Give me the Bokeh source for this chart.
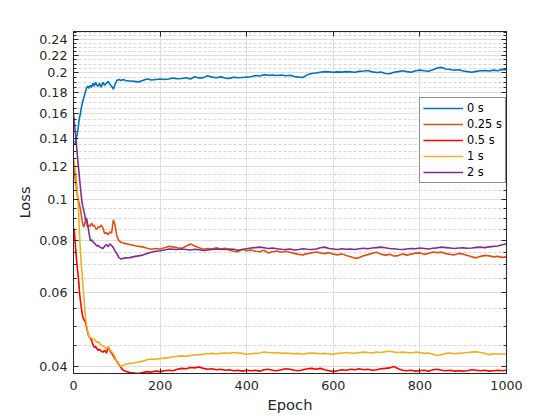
from bokeh.plotting import figure
from bokeh.models import (Range1d, FixedTicker, LinearAxis, LogAxis, Legend, LegendItem,
                          CustomJSTickFormatter)
from bokeh.embed import file_html
from bokeh.resources import INLINE

epochs = [0, 2, 4, 6, 8, 10, 12, 14, 16, 18, 20, 22, 24, 26, 28, 30,
          33, 36, 39, 42, 45, 48, 51, 54, 57, 60,
          64, 68, 72, 76, 80, 84, 88, 92, 96, 100,
          105, 110, 115, 120,
          130, 140, 150, 160, 170, 180, 190, 200, 210, 220,
          230, 240, 250, 260, 270, 280, 290, 300, 310, 320,
          330, 340, 350, 360, 370, 380, 390, 400, 410, 420,
          430, 440, 450, 460, 470, 480, 490, 500, 510, 520,
          530, 540, 550, 560, 570, 580, 590, 600, 610, 620,
          630, 640, 650, 660, 670, 680, 690, 700, 710, 720,
          730, 740, 750, 760, 770, 780, 790, 800, 810, 820,
          830, 840, 850, 860, 870, 880, 890, 900, 910, 920,
          930, 940, 950, 960, 970, 980, 990, 1000]

loss_0s = [0.136, 0.135, 0.137, 0.140, 0.142, 0.146, 0.152, 0.157, 0.160, 0.165, 0.169, 0.172, 0.175, 0.178, 0.181, 0.184,
           0.186, 0.184, 0.187, 0.185, 0.189, 0.186, 0.190, 0.187, 0.186, 0.189,
           0.185, 0.190, 0.187, 0.189, 0.191, 0.188, 0.186, 0.183, 0.188, 0.192,
           0.193, 0.192, 0.193, 0.192,
           0.1915, 0.191, 0.1905, 0.192, 0.1935, 0.1925, 0.193, 0.1935, 0.193, 0.1935,
           0.1945, 0.1938, 0.194, 0.1948, 0.1935, 0.196, 0.1945, 0.195, 0.197, 0.1955,
           0.1948, 0.1958, 0.1945, 0.1942, 0.1955, 0.1948, 0.1952, 0.1955, 0.196, 0.1972,
           0.1968, 0.1982, 0.1975, 0.1978, 0.1972, 0.1978, 0.197, 0.1975, 0.1962, 0.1955,
           0.1952, 0.198, 0.1995, 0.2, 0.2008, 0.2015, 0.2012, 0.2008, 0.2012, 0.201,
           0.2015, 0.2012, 0.2008, 0.2018, 0.2022, 0.2028, 0.2012, 0.2005, 0.201, 0.1995,
           0.1992, 0.2008, 0.2015, 0.2025, 0.2015, 0.2008, 0.2025, 0.2032, 0.2025, 0.202,
           0.2035, 0.2055, 0.2062, 0.2045, 0.2038, 0.203, 0.2035, 0.2022, 0.2015, 0.2008,
           0.2018, 0.2025, 0.2028, 0.2022, 0.2032, 0.2025, 0.204, 0.2035]

loss_025s = [0.124, 0.118, 0.112, 0.108, 0.104, 0.101, 0.099, 0.097, 0.095, 0.092, 0.089, 0.087, 0.086, 0.088, 0.089, 0.088,
             0.086, 0.087, 0.0865, 0.088, 0.0865, 0.087, 0.0855, 0.085, 0.0862, 0.0858,
             0.087, 0.0855, 0.083, 0.0835, 0.0825, 0.0838, 0.0832, 0.0895, 0.087, 0.082,
             0.0798, 0.0792, 0.0788, 0.0786,
             0.0782, 0.0778, 0.0774, 0.0772, 0.0766, 0.0762, 0.0765, 0.0763, 0.0768, 0.0774,
             0.0772, 0.0768, 0.0766, 0.0775, 0.0784, 0.0776, 0.0768, 0.0762, 0.0765, 0.0763,
             0.0768, 0.0763, 0.0766, 0.0758, 0.0754, 0.0752, 0.0762, 0.0756, 0.0759, 0.0754,
             0.0752, 0.0758, 0.0747, 0.0752, 0.0755, 0.075, 0.0754, 0.075, 0.0745, 0.0741,
             0.0739, 0.0744, 0.0747, 0.0751, 0.0747, 0.0744, 0.0748, 0.0742, 0.0739, 0.0743,
             0.0736, 0.0731, 0.0725, 0.0728, 0.0735, 0.074, 0.0745, 0.075, 0.0742, 0.0738,
             0.0741, 0.0734, 0.0736, 0.0743, 0.0738, 0.0742, 0.0746, 0.0747, 0.0741, 0.0745,
             0.0751, 0.0748, 0.075, 0.0744, 0.0741, 0.0739, 0.0745, 0.0742, 0.0736, 0.0731,
             0.0727, 0.0733, 0.0737, 0.0735, 0.0731, 0.0733, 0.0729, 0.0731]

loss_05s = [0.0855, 0.084, 0.079, 0.074, 0.070, 0.067, 0.064, 0.060, 0.0574, 0.0555, 0.0534, 0.0525, 0.0518, 0.0515, 0.051, 0.0498,
            0.0482, 0.0472, 0.0468, 0.0462, 0.0452, 0.0445, 0.0448, 0.0442, 0.0438, 0.0441,
            0.0436, 0.0434, 0.0438, 0.0432, 0.0446, 0.0438, 0.0432, 0.0425, 0.0418, 0.0413,
            0.0405, 0.0398, 0.0393, 0.0391,
            0.0388, 0.0387, 0.0386, 0.0388, 0.039, 0.0389, 0.0391, 0.039, 0.0392, 0.0393,
            0.0392, 0.0395, 0.0397, 0.0396, 0.0399, 0.0398, 0.04, 0.0397, 0.0395, 0.0396,
            0.0394, 0.0395, 0.0393, 0.0394, 0.0392, 0.0393, 0.0391, 0.0393, 0.0392, 0.0393,
            0.0391, 0.0394, 0.0395, 0.0393, 0.0392, 0.0394, 0.0396, 0.0395, 0.0393, 0.0392,
            0.0394, 0.0396, 0.0397, 0.0395, 0.0397, 0.0394, 0.0392, 0.039, 0.0392, 0.0394,
            0.0393, 0.0395, 0.0394, 0.0396, 0.0394, 0.0395, 0.0393, 0.0394, 0.0396, 0.0397,
            0.0398, 0.0401, 0.0396, 0.0393, 0.0392, 0.0393, 0.0391, 0.0392, 0.0393, 0.0391,
            0.0394, 0.0395, 0.0393, 0.0392, 0.0393, 0.0391, 0.0392, 0.0391, 0.0392, 0.0394,
            0.0393, 0.0392, 0.0393, 0.0391, 0.0392, 0.0393, 0.0392, 0.0393]

loss_1s = [0.125, 0.122, 0.118, 0.114, 0.108, 0.100, 0.093, 0.082, 0.0755, 0.070, 0.0664, 0.062, 0.0585, 0.055, 0.0522, 0.0505,
           0.0485, 0.0472, 0.047, 0.0468, 0.0465, 0.0466, 0.0462, 0.0458, 0.046, 0.0455,
           0.0452, 0.0448, 0.0446, 0.0442, 0.0448, 0.044, 0.0435, 0.043, 0.0422, 0.0412,
           0.0403, 0.0401, 0.0404, 0.0406,
           0.0408, 0.0409, 0.0411, 0.0413, 0.0416, 0.0418, 0.0417, 0.0419, 0.042, 0.0421,
           0.0423, 0.0424, 0.0425, 0.0424, 0.0426, 0.0427, 0.0428, 0.0429, 0.043, 0.0431,
           0.043, 0.0431, 0.0432, 0.0431, 0.0433, 0.0432, 0.0431, 0.0429, 0.043, 0.0431,
           0.0432, 0.0434, 0.0433, 0.0432, 0.0433, 0.0431, 0.0432, 0.0431, 0.043, 0.0431,
           0.0429, 0.0431, 0.0432, 0.0431, 0.043, 0.0431, 0.043, 0.0429, 0.0431, 0.0432,
           0.0433, 0.0432, 0.0431, 0.0433, 0.0434, 0.0433, 0.0432, 0.0434, 0.0433, 0.0435,
           0.0436, 0.0434, 0.0433, 0.0434, 0.0433, 0.0432, 0.0434, 0.0433, 0.0431, 0.0432,
           0.0429, 0.0426, 0.0428, 0.0431, 0.0432, 0.043, 0.0431, 0.0432, 0.0433, 0.0434,
           0.0435, 0.0433, 0.0431, 0.0428, 0.043, 0.0429, 0.043, 0.0429]

loss_2s = [0.16, 0.152, 0.145, 0.138, 0.1307, 0.124, 0.118, 0.112, 0.107, 0.102, 0.098, 0.0958, 0.094, 0.092, 0.089, 0.0905,
           0.087, 0.083, 0.0798, 0.0802, 0.0794, 0.0788, 0.0782, 0.0776, 0.0779, 0.0772,
           0.0768, 0.0765, 0.0775, 0.0782, 0.0772, 0.0785, 0.0778, 0.0768, 0.0755, 0.0744,
           0.0728, 0.0722, 0.0725, 0.0727,
           0.0728, 0.0732, 0.0735, 0.0738, 0.0745, 0.075, 0.0754, 0.0756, 0.0759, 0.0763,
           0.0762, 0.0761, 0.0763, 0.0761, 0.0759, 0.0762, 0.076, 0.0757, 0.0759, 0.0761,
           0.0763, 0.0762, 0.0761, 0.0763, 0.0762, 0.0758, 0.0761, 0.0764, 0.0767, 0.0769,
           0.0771, 0.0768, 0.0765, 0.0767, 0.0764, 0.0762, 0.0761, 0.0763, 0.0759, 0.0761,
           0.0764, 0.0762, 0.0761, 0.0763, 0.0768, 0.0771, 0.0765, 0.0763, 0.0761, 0.0764,
           0.0762, 0.0763, 0.0761, 0.0764, 0.0766, 0.0764, 0.0767, 0.0769, 0.0771, 0.0768,
           0.0765, 0.0764, 0.0762, 0.0761, 0.0763, 0.0765, 0.0764, 0.0767, 0.0765, 0.0763,
           0.0766, 0.0768, 0.0771, 0.0769, 0.0767, 0.0765, 0.0767, 0.0768, 0.0766, 0.0767,
           0.077, 0.0771, 0.0769, 0.0772, 0.0774, 0.0776, 0.0781, 0.0785]

series_labels = ["0 s", "0.25 s", "0.5 s", "1 s", "2 s"]
series_values = [loss_0s, loss_025s, loss_05s, loss_1s, loss_2s]
series_colors = ["#0072BD", "#D95319", "#FF0000", "#EDB120", "#7E2F8E"]

x_ticks = [0, 200, 400, 600, 800, 1000]
y_ticks = [0.04, 0.06, 0.08, 0.1, 0.12, 0.14, 0.16, 0.18, 0.2, 0.22, 0.24]
y_minor = [0.045, 0.05, 0.055, 0.065, 0.07, 0.075, 0.085, 0.09, 0.095,
           0.105, 0.11, 0.115, 0.125, 0.13, 0.135, 0.145, 0.15, 0.155,
           0.165, 0.17, 0.175, 0.185, 0.19, 0.195, 0.205, 0.21, 0.215,
           0.225, 0.23, 0.235, 0.245, 0.25]

FONT = "DejaVu Sans"
AX = "#262626"

p = figure(frame_width=433, frame_height=342, output_backend="svg", toolbar_location=None,
           y_axis_type="log", x_range=Range1d(0, 1000), y_range=Range1d(0.0386, 0.251),
           min_border_left=73, min_border_right=46, min_border_top=31, min_border_bottom=39)
p.background_fill_color = "white"
p.border_fill_color = "white"
p.outline_line_color = AX
p.outline_line_width = 1

xt = FixedTicker(ticks=x_ticks, minor_ticks=[])
yt = FixedTicker(ticks=y_ticks, minor_ticks=y_minor)
yfmt = CustomJSTickFormatter(code="return Number(tick.toFixed(3)).toString();")

p.xaxis.ticker = xt
p.yaxis.ticker = yt
p.yaxis.formatter = yfmt

for ax in (p.xaxis[0], p.yaxis[0]):
    ax.axis_line_color = AX
    ax.major_tick_line_color = AX
    ax.minor_tick_line_color = AX
    ax.major_tick_in = 5
    ax.major_tick_out = 0
    ax.minor_tick_in = 3
    ax.minor_tick_out = 0
    ax.major_label_text_font = FONT
    ax.major_label_text_font_size = "12.7px"
    ax.major_label_text_color = AX
    ax.axis_label_text_font = FONT
    ax.axis_label_text_font_size = "14.7px"
    ax.axis_label_text_font_style = "normal"
    ax.axis_label_text_color = AX

p.xaxis.axis_label = "Epoch"
p.yaxis.axis_label = "Loss"
p.xaxis.major_label_standoff = 7
p.xaxis.axis_label_standoff = 3
p.yaxis.major_label_standoff = 6
p.yaxis.axis_label_standoff = 3

top = LinearAxis(ticker=xt, major_label_text_color=None, axis_line_color=AX,
                 major_tick_line_color=AX, major_tick_in=5, major_tick_out=0,
                 minor_tick_out=0, minor_tick_in=0, major_label_text_font_size="1px",
                 major_label_standoff=0)
right = LogAxis(ticker=yt, formatter=yfmt, major_label_text_color=None, axis_line_color=AX,
                major_tick_line_color=AX, minor_tick_line_color=AX, major_tick_in=5,
                major_tick_out=0, minor_tick_in=3, minor_tick_out=0,
                major_label_text_font_size="1px", major_label_standoff=0)
p.add_layout(top, "above")
p.add_layout(right, "right")

p.xgrid.grid_line_color = "#dedede"
p.xgrid.grid_line_width = 1
p.ygrid.grid_line_color = "#dedede"
p.ygrid.grid_line_width = 1
p.ygrid.minor_grid_line_color = "#d6d6d6"
p.ygrid.minor_grid_line_dash = "3 2"
p.ygrid.minor_grid_line_width = 1

items = []
for lab, vals, col in zip(series_labels, series_values, series_colors):
    r = p.line(epochs, vals, line_color=col, line_width=1.6)
    items.append(LegendItem(label=lab, renderers=[r]))

legend = Legend(items=items, location=(346, 190), margin=0, padding=3, spacing=2,
                glyph_width=40, glyph_height=14, label_height=14, label_standoff=4,
                label_text_font=FONT, label_text_font_size="11.4px", label_text_color="black",
                border_line_color=AX, border_line_width=1, background_fill_color="white",
                background_fill_alpha=1)
p.add_layout(legend, "center")

open("out.html", "w").write(file_html(p, INLINE))
